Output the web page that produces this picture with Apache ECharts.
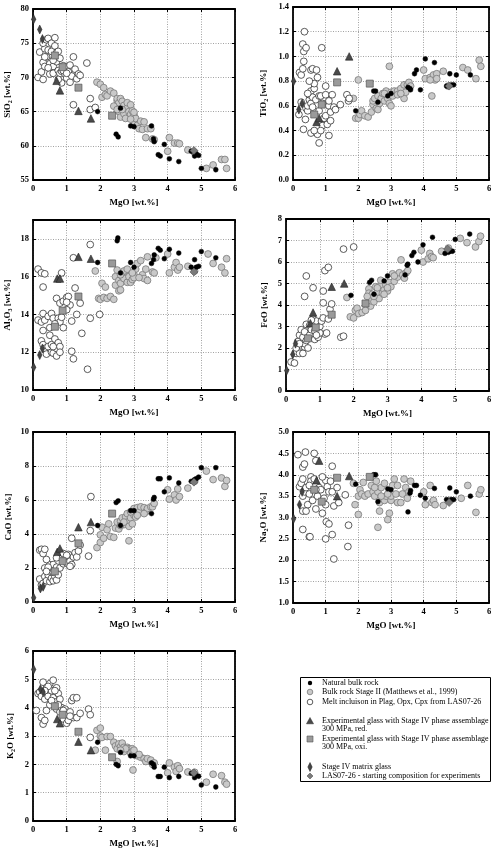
<!DOCTYPE html>
<html><head><meta charset="utf-8">
<script src="https://cdn.jsdelivr.net/npm/echarts@6/dist/echarts.min.js"></script>
<style>html,body{margin:0;padding:0;background:#fff}#c{width:500px;height:855px}</style>
</head><body><div id="c"></div>
<script>
// ---------- DATA ----------
const xMin = 0, xMax = 6, xInterval = 1;
const xLabel = 'MgO [wt.%]';

// Natural bulk rock
const natSiO2 = [[1.92,65.0],[2.47,61.7],[2.53,61.3],[2.6,65.5],[2.9,62.9],[3.0,62.8],[3.52,62.9],[3.58,61.0],[3.6,60.6],[3.72,58.7],[3.78,58.5],[3.9,60.2],[4.05,58.1],[4.33,57.7],[4.7,59.2],[4.8,58.5],[4.85,58.8],[4.92,58.6],[5.0,56.7],[5.43,56.5]];
const natTiO2 = [[1.92,0.56],[2.47,0.72],[2.53,0.72],[2.6,0.63],[2.9,0.68],[3.0,0.70],[3.52,0.75],[3.58,0.74],[3.6,0.73],[3.72,0.86],[3.78,0.89],[3.9,0.73],[4.05,0.98],[4.33,0.95],[4.7,0.76],[4.8,0.86],[4.85,0.77],[4.92,0.77],[5.0,0.85],[5.43,0.85]];
const natAl2O3 = [[1.92,16.75],[2.5,17.9],[2.52,18.05],[2.6,16.2],[2.9,16.75],[3.0,16.5],[3.52,16.7],[3.58,16.9],[3.6,17.15],[3.72,17.5],[3.78,17.4],[3.9,16.95],[4.05,17.45],[4.33,17.25],[4.7,16.5],[4.8,16.9],[4.85,16.5],[4.92,16.55],[5.0,17.33],[5.43,17.0]];
const natFeO = [[1.92,4.45],[2.47,5.05],[2.53,5.15],[2.6,4.5],[2.9,5.12],[3.0,5.35],[3.52,5.4],[3.58,5.85],[3.6,5.9],[3.72,6.3],[3.78,6.45],[3.9,6.0],[4.05,6.8],[4.33,7.15],[4.7,6.4],[4.8,6.45],[4.85,6.5],[4.92,6.5],[5.0,7.05],[5.43,7.3]];
const natCaO = [[1.92,4.5],[2.47,5.85],[2.53,5.95],[2.6,4.5],[2.9,5.37],[3.0,5.37],[3.52,5.2],[3.58,6.05],[3.6,6.15],[3.72,7.25],[3.78,7.25],[3.9,6.48],[4.05,7.3],[4.33,7.0],[4.7,7.1],[4.8,7.2],[4.85,7.25],[4.92,7.35],[5.0,7.9],[5.43,7.9]];
const natNa2O = [[1.92,3.78],[2.47,4.0],[2.53,4.0],[2.6,3.37],[2.9,3.67],[3.0,3.65],[3.52,3.13],[3.58,3.57],[3.6,3.63],[3.72,3.75],[3.78,3.75],[3.9,3.52],[4.05,3.45],[4.33,3.68],[4.7,3.42],[4.8,3.69],[4.85,3.42],[4.92,3.42],[5.0,3.6],[5.43,3.5]];
const natK2O = [[1.92,2.78],[2.47,2.0],[2.53,1.95],[2.6,2.42],[2.9,2.3],[3.0,2.3],[3.52,2.05],[3.58,2.0],[3.6,1.9],[3.72,1.57],[3.78,1.57],[3.9,1.9],[4.05,1.53],[4.33,1.57],[4.7,1.68],[4.8,1.53],[4.85,1.6],[4.92,1.58],[5.0,1.27],[5.43,1.2]];

// Bulk rock Stage II (Matthews et al., 1999)
const s2SiO2 = [[1.9,69.3],[2.0,69.0],[2.05,67.1],[2.1,68.5],[2.15,67.5],[2.2,67.3],[2.3,68.0],[2.4,67.7],[2.5,66.6],[2.5,66.9],[2.55,66.3],[2.6,66.9],[2.65,66.5],[2.55,65.0],[2.6,64.2],[2.7,65.9],[2.7,64.7],[2.75,64.0],[2.8,65.5],[2.8,66.3],[2.85,65.0],[2.9,66.0],[2.9,64.6],[2.95,65.1],[3.0,64.5],[3.0,63.5],[3.05,64.0],[3.1,63.0],[3.15,62.5],[3.2,63.6],[3.25,62.4],[3.3,63.5],[3.4,62.5],[3.35,61.2],[3.5,62.5],[3.55,61.0],[3.6,60.9],[4.0,59.2],[4.05,61.2],[4.2,60.4],[4.3,60.4],[4.35,60.3],[4.6,59.4],[4.8,59.0],[5.15,56.7],[5.35,57.2],[5.6,58.0],[5.7,58.0],[5.75,56.7],[2.4,65.8],[2.5,65.3],[2.65,65.3],[2.9,63.9],[3.0,64.9]];
const s2TiO2 = [[1.85,0.66],[1.92,0.5],[2.0,0.81],[2.0,0.5],[2.05,0.53],[2.1,0.56],[2.2,0.52],[2.3,0.51],[2.4,0.55],[2.45,0.61],[2.45,0.64],[2.5,0.66],[2.55,0.58],[2.6,0.57],[2.6,0.68],[2.65,0.62],[2.7,0.66],[2.75,0.70],[2.8,0.64],[2.85,0.72],[2.9,0.66],[2.95,0.62],[2.95,0.92],[3.0,0.60],[3.0,0.71],[3.05,0.68],[3.1,0.72],[3.2,0.72],[3.3,0.74],[3.4,0.66],[3.4,0.77],[3.5,0.77],[3.55,0.79],[3.45,0.71],[4.0,0.89],[4.05,0.82],[4.2,0.83],[4.25,0.68],[4.3,0.85],[4.35,0.81],[4.4,0.86],[4.6,0.88],[4.75,0.76],[5.2,0.91],[5.35,0.89],[5.6,0.82],[5.7,0.97],[5.75,0.92],[3.2,0.69],[3.3,0.7],[2.8,0.7],[3.6,0.76],[4.2,0.81],[4.4,0.82]];
const s2Al2O3 = [[1.85,16.3],[1.95,14.85],[2.0,14.8],[2.05,15.65],[2.1,14.9],[2.15,15.45],[2.2,14.85],[2.3,14.95],[2.4,14.8],[2.45,15.55],[2.45,16.0],[2.55,15.25],[2.6,15.3],[2.55,15.8],[2.6,15.65],[2.65,16.0],[2.7,15.9],[2.75,16.3],[2.8,15.7],[2.85,16.0],[2.9,15.7],[2.95,15.85],[3.0,16.1],[3.0,15.95],[3.05,16.4],[3.1,16.7],[3.2,16.85],[3.25,16.1],[3.3,15.9],[3.35,16.4],[3.4,15.8],[3.4,17.05],[3.55,16.25],[3.6,16.2],[3.65,17.0],[4.0,17.2],[4.05,16.2],[4.2,16.5],[4.25,16.75],[4.3,16.35],[4.35,16.5],[4.6,16.55],[4.8,16.3],[5.2,17.2],[5.35,16.7],[5.6,16.5],[5.7,16.2],[5.75,16.95],[2.7,16.3],[2.8,16.4],[2.95,16.2],[3.15,15.95],[2.6,16.1],[2.5,16.35]];
const s2FeO = [[1.8,4.35],[1.9,3.45],[2.0,3.4],[2.05,3.75],[2.1,3.85],[2.15,3.6],[2.25,3.65],[2.35,3.75],[2.45,4.75],[2.45,4.55],[2.5,3.95],[2.5,4.2],[2.55,4.5],[2.6,4.15],[2.65,4.85],[2.7,4.6],[2.75,4.3],[2.8,4.9],[2.8,5.15],[2.85,4.55],[2.9,4.7],[2.95,4.95],[3.0,4.65],[3.05,5.05],[3.1,4.85],[3.15,5.45],[3.2,5.1],[3.3,5.3],[3.35,5.5],[3.4,6.1],[3.45,5.4],[3.5,5.25],[3.55,5.5],[3.6,5.6],[4.0,6.55],[4.05,6.0],[4.2,6.15],[4.25,6.4],[4.3,6.25],[4.35,6.2],[4.6,6.5],[4.8,6.65],[5.15,7.1],[5.35,6.9],[5.6,6.7],[5.7,6.95],[5.75,7.2],[2.6,4.4],[2.9,4.5],[3.0,4.8],[3.2,5.35],[2.4,4.4],[2.7,4.8]];
const s2CaO = [[1.9,3.2],[2.0,3.5],[2.0,3.95],[2.05,4.4],[2.1,3.75],[2.2,4.25],[2.25,4.6],[2.3,3.85],[2.4,3.8],[2.45,4.35],[2.5,4.7],[2.55,4.3],[2.6,4.75],[2.65,4.95],[2.7,4.55],[2.75,5.0],[2.8,4.7],[2.8,5.2],[2.85,3.6],[2.85,4.45],[2.9,4.95],[2.95,4.6],[3.0,5.1],[3.0,5.5],[3.05,5.0],[3.1,5.55],[3.15,5.3],[3.2,5.6],[3.3,5.55],[3.35,5.3],[3.4,5.5],[3.5,5.6],[3.55,5.6],[3.6,5.8],[4.0,6.6],[4.05,6.05],[4.2,6.3],[4.25,6.0],[4.3,6.65],[4.35,6.2],[4.6,6.7],[4.8,7.1],[5.15,7.7],[5.35,7.2],[5.6,7.3],[5.7,6.8],[5.75,7.15],[2.6,4.5],[2.9,5.3],[3.1,5.1],[2.7,4.7],[3.3,5.2]];
const s2Na2O = [[1.85,3.8],[1.9,3.3],[2.0,3.07],[2.0,3.5],[2.05,3.65],[2.1,3.55],[2.15,3.82],[2.2,3.5],[2.3,3.55],[2.4,3.75],[2.45,3.6],[2.5,3.5],[2.55,3.85],[2.6,2.77],[2.6,3.6],[2.65,3.35],[2.65,3.15],[2.7,3.7],[2.75,3.45],[2.8,3.8],[2.8,3.4],[2.85,3.5],[2.9,2.95],[2.95,3.1],[3.0,3.4],[3.0,3.5],[3.05,3.75],[3.1,3.9],[3.15,3.55],[3.2,3.35],[3.3,3.35],[3.35,3.55],[3.4,3.9],[3.45,3.7],[3.5,3.45],[3.55,3.6],[3.6,3.85],[4.0,3.6],[4.05,3.3],[4.2,3.75],[4.25,3.35],[4.3,3.4],[4.35,3.3],[4.6,3.28],[4.8,3.4],[5.15,3.45],[5.35,3.75],[5.6,3.12],[5.7,3.55],[5.75,3.65],[2.5,3.7],[2.9,3.55],[3.2,3.75],[2.7,3.5]];
const s2K2O = [[1.85,2.5],[1.9,3.2],[2.0,3.28],[2.0,3.0],[2.05,2.95],[2.15,2.5],[2.2,2.98],[2.3,2.98],[2.4,2.78],[2.45,2.65],[2.5,2.55],[2.55,2.72],[2.6,2.62],[2.65,2.75],[2.7,2.45],[2.7,2.6],[2.8,2.6],[2.85,2.55],[2.9,2.4],[2.95,2.55],[2.95,2.45],[2.97,1.8],[3.0,2.4],[3.05,2.35],[3.1,2.3],[3.2,2.25],[3.3,2.2],[3.35,2.1],[3.4,2.2],[3.5,2.15],[3.55,2.0],[3.6,2.05],[4.0,1.7],[4.05,2.05],[4.2,1.9],[4.25,1.75],[4.3,1.95],[4.35,1.85],[4.6,1.73],[4.8,1.72],[5.15,1.37],[5.35,1.65],[5.6,1.6],[5.7,1.37],[5.75,1.3],[2.5,2.1],[2.75,2.55],[3.0,2.5],[3.15,2.35],[2.6,2.5]];

// Melt inclusion in Plag, Opx, Cpx from LAS07-26
const miSiO2 = [[0.15,70.0],[0.2,73.7],[0.25,70.8],[0.3,69.7],[0.3,72.2],[0.35,71.6],[0.35,74.2],[0.3,75.0],[0.4,73.0],[0.4,75.5],[0.45,74.0],[0.45,75.7],[0.5,72.0],[0.5,70.5],[0.55,73.8],[0.55,75.0],[0.6,71.6],[0.6,70.6],[0.65,74.6],[0.65,75.8],[0.7,73.6],[0.7,72.3],[0.75,71.0],[0.75,73.8],[0.8,70.6],[0.8,72.8],[0.85,69.2],[0.85,70.9],[0.9,71.7],[0.95,70.5],[1.0,71.5],[1.0,69.9],[1.05,70.8],[1.1,71.8],[1.1,69.3],[1.15,70.2],[1.2,73.0],[1.25,71.2],[1.3,69.8],[1.35,70.5],[1.4,70.3],[1.2,66.0],[1.6,72.1],[1.7,66.9],[1.7,65.3],[1.85,65.6],[0.9,71.0],[0.35,73.0],[0.6,72.5],[1.0,70.6],[0.45,71.4],[0.75,69.7]];
const miTiO2 = [[0.18,0.53],[0.2,0.87],[0.25,0.63],[0.25,0.85],[0.3,0.9],[0.3,1.1],[0.33,0.96],[0.33,1.04],[0.35,1.2],[0.4,1.07],[0.32,0.41],[0.38,0.49],[0.4,0.58],[0.45,0.56],[0.45,0.6],[0.5,0.65],[0.5,0.69],[0.55,0.62],[0.55,0.72],[0.55,0.89],[0.55,0.38],[0.6,0.9],[0.6,0.67],[0.6,0.59],[0.65,0.74],[0.65,0.78],[0.7,0.65],[0.72,0.89],[0.75,0.37],[0.75,0.83],[0.8,0.3],[0.8,0.68],[0.8,0.56],[0.85,0.68],[0.88,1.07],[0.9,0.44],[0.95,0.5],[1.0,0.76],[1.0,0.52],[1.0,0.69],[1.05,0.45],[1.1,0.36],[1.1,0.6],[1.15,0.48],[1.15,0.55],[1.2,0.69],[1.25,0.59],[1.3,0.57],[1.45,0.61],[1.65,0.69],[1.7,0.64],[1.72,0.66],[0.5,0.8],[0.45,0.7],[0.65,0.4],[0.85,0.4],[0.9,0.62],[1.1,0.64]];
const miAl2O3 = [[0.15,16.4],[0.25,16.2],[0.35,16.15],[0.3,15.45],[0.85,16.2],[1.2,17.0],[1.7,17.7],[0.15,13.7],[0.25,13.6],[0.3,13.15],[0.3,14.05],[0.35,13.7],[0.45,13.9],[0.55,14.05],[0.5,13.3],[0.6,13.8],[0.7,14.85],[0.75,13.8],[0.8,13.6],[0.8,14.6],[0.9,14.7],[0.9,13.3],[1.0,14.9],[1.05,14.95],[1.1,14.5],[1.15,13.65],[1.25,15.4],[1.3,14.0],[1.4,14.6],[1.45,13.0],[1.7,13.8],[1.98,14.0],[0.25,12.6],[0.3,12.4],[0.35,12.2],[0.4,11.9],[0.45,12.3],[0.5,12.9],[0.55,12.4],[0.55,12.0],[0.6,11.95],[0.65,12.7],[0.7,11.8],[0.7,12.2],[0.75,12.5],[0.8,12.3],[0.8,12.0],[0.6,12.3],[1.15,12.05],[1.2,11.65],[1.62,11.1],[0.85,13.85],[1.0,14.65],[0.65,13.5],[1.0,14.25]];
const miFeO = [[0.15,1.35],[0.25,1.3],[0.3,1.75],[0.4,1.75],[0.45,2.1],[0.5,1.75],[0.55,2.05],[0.35,2.3],[0.4,2.6],[0.45,2.85],[0.5,2.5],[0.55,2.2],[0.55,2.75],[0.6,3.1],[0.65,2.0],[0.7,2.6],[0.7,3.05],[0.75,2.85],[0.8,3.35],[0.85,2.4],[0.85,2.8],[0.9,3.25],[0.95,2.5],[1.0,3.0],[1.05,3.25],[1.1,3.4],[1.15,2.65],[1.2,2.7],[1.25,3.35],[1.3,3.8],[1.35,4.05],[1.1,4.1],[1.1,4.65],[1.15,5.6],[1.25,5.75],[0.55,4.4],[0.6,5.35],[0.8,4.8],[1.62,2.5],[1.7,2.55],[1.7,6.6],[2.0,6.7],[0.3,2.0],[0.6,2.35],[0.75,3.3],[1.0,2.7],[0.4,2.2],[0.9,2.6]];
const miCaO = [[0.2,1.35],[0.25,1.0],[0.3,1.1],[0.35,1.5],[0.35,2.0],[0.4,1.25],[0.45,1.6],[0.5,1.2],[0.5,2.2],[0.55,1.4],[0.55,1.75],[0.6,1.25],[0.6,2.2],[0.65,1.5],[0.7,1.3],[0.7,2.05],[0.75,1.6],[0.8,2.0],[0.85,2.6],[0.9,2.25],[0.95,2.7],[1.0,2.3],[1.05,2.8],[1.1,2.4],[1.15,2.2],[1.15,3.75],[1.2,2.65],[1.25,2.9],[1.3,2.65],[1.35,3.0],[1.4,3.35],[1.65,2.7],[1.7,4.2],[1.72,6.2],[0.2,3.05],[0.25,3.1],[0.3,2.85],[0.35,3.1],[0.4,2.5],[0.45,2.05],[0.9,2.85],[1.0,2.75],[0.6,1.75],[0.4,1.8],[0.7,2.6],[1.1,2.1]];
const miNa2O = [[0.15,4.47],[0.3,4.18],[0.35,4.25],[0.38,4.53],[0.65,4.5],[0.7,4.33],[1.2,4.2],[0.2,3.72],[0.25,3.8],[0.3,3.9],[0.3,3.5],[0.35,3.6],[0.4,3.7],[0.45,3.3],[0.5,3.55],[0.55,3.95],[0.55,3.85],[0.6,3.4],[0.65,3.9],[0.7,3.2],[0.75,3.5],[0.8,3.7],[0.85,3.65],[0.9,3.1],[0.95,3.45],[1.0,3.87],[1.0,3.3],[1.05,3.72],[1.1,3.6],[1.15,3.85],[1.2,3.6],[1.25,3.27],[1.35,3.7],[1.4,3.35],[1.6,3.53],[0.3,3.15],[0.4,3.15],[0.3,2.72],[0.5,2.55],[0.52,2.55],[1.0,2.5],[1.02,2.9],[1.1,2.85],[1.2,2.6],[1.25,2.03],[1.7,2.82],[1.68,2.32],[0.9,3.95],[0.7,3.65],[0.5,3.75]];
const miK2O = [[0.1,3.9],[0.15,4.5],[0.2,4.55],[0.25,4.4],[0.25,3.65],[0.3,3.42],[0.3,4.9],[0.35,3.55],[0.35,4.3],[0.4,4.7],[0.4,3.9],[0.45,4.4],[0.5,4.85],[0.5,4.1],[0.55,4.6],[0.6,4.97],[0.6,4.35],[0.65,4.2],[0.7,4.7],[0.7,3.95],[0.75,4.5],[0.8,4.3],[0.8,3.85],[0.85,4.0],[0.9,3.6],[0.95,3.95],[1.0,3.45],[1.0,3.75],[1.05,3.55],[1.1,3.85],[1.15,4.25],[1.2,4.35],[1.2,3.65],[1.3,4.35],[1.3,3.65],[1.4,3.8],[1.65,3.95],[1.7,3.75],[1.7,2.95],[0.55,4.25],[0.45,4.75],[0.65,4.6],[0.9,3.9],[1.1,3.7],[0.35,4.6],[0.75,4.1]];

// Experimental glass, Stage IV phase assemblage, 300 MPa, red.
const redSiO2 = [[0.7,69.5],[0.8,68.1],[1.35,65.1],[1.72,64.0]];
const redTiO2 = [[0.72,0.47],[0.8,0.5],[1.35,0.88],[1.72,1.0]];
const redAl2O3 = [[0.72,15.9],[0.8,15.9],[1.35,17.05],[1.72,16.95]];
const redFeO = [[0.72,3.15],[0.8,3.65],[1.35,4.85],[1.72,5.0]];
const redCaO = [[0.72,2.95],[0.8,3.15],[1.35,4.4],[1.72,4.7]];
const redNa2O = [[0.72,3.87],[0.8,4.33],[1.35,3.5],[1.72,3.97]];
const redK2O = [[0.72,3.6],[0.8,3.45],[1.35,2.8],[1.72,2.5]];

// Experimental glass, Stage IV phase assemblage, 300 MPa, oxi.
const oxiSiO2 = [[0.65,73.2],[0.88,71.5],[1.35,68.5],[2.35,64.4]];
const oxiTiO2 = [[0.65,0.53],[0.88,0.61],[1.35,0.79],[2.35,0.78]];
const oxiAl2O3 = [[0.65,13.35],[0.88,14.2],[1.35,14.95],[2.35,16.7]];
const oxiFeO = [[0.65,2.45],[0.88,2.95],[1.35,3.55],[2.35,4.07]];
const oxiCaO = [[0.65,1.8],[0.88,2.4],[1.35,3.45],[2.35,5.2]];
const oxiNa2O = [[0.65,3.65],[0.88,3.37],[1.35,3.93],[2.35,3.95]];
const oxiK2O = [[0.65,4.05],[0.88,3.75],[1.35,3.15],[2.35,2.25]];

// Stage IV matrix glass
const ivSiO2 = [[0.02,78.5],[0.2,77.0],[0.28,75.6]];
const ivTiO2 = [[0.02,0.8],[0.18,0.57],[0.28,0.62]];
const ivAl2O3 = [[0.02,11.2],[0.2,11.85],[0.28,12.2]];
const ivFeO = [[0.02,0.95],[0.2,1.7],[0.28,2.2]];
const ivCaO = [[0.02,0.25],[0.22,0.8],[0.3,0.9]];
const ivNa2O = [[0.02,2.97],[0.2,3.3],[0.28,3.6]];
const ivK2O = [[0.02,5.35],[0.22,4.65],[0.3,4.55]];

// LAS07-26 - starting composition for experiments
const lasSiO2 = [[4.78,59.3]];
const lasTiO2 = [[4.78,0.76]];
const lasAl2O3 = [[4.78,16.25]];
const lasFeO = [[4.78,6.6]];
const lasCaO = [[4.78,7.05]];
const lasNa2O = [[4.78,3.35]];
const lasK2O = [[4.78,1.7]];

const legendLabels = [
  'Natural bulk rock',
  'Bulk rock Stage II (Matthews et al., 1999)',
  'Melt incluison in Plag, Opx, Cpx from LAS07-26',
  'Experimental glass with Stage IV phase assemblage',
  '300 MPa, red.',
  'Experimental glass with Stage IV phase assemblage',
  '300 MPa, oxi.',
  'Stage IV matrix glass',
  'LAS07-26 - starting composition for experiments'
];

// ---------- LAYOUT ----------
const FONT = 'Liberation Serif';
const panels = [
  {name:'{a|SiO}{s|2}{a| [wt.%]}', min:55, max:80, interval:5, dec:0, grid:{left:33, top:9, width:202, height:171}, gap:20,
   d:[s2SiO2, miSiO2, natSiO2, redSiO2, oxiSiO2, ivSiO2, lasSiO2]},
  {name:'{a|TiO}{s|2}{a| [wt.%]}', min:0, max:1.4, interval:0.2, dec:1, grid:{left:293, top:7, width:196, height:173}, gap:24,
   d:[s2TiO2, miTiO2, natTiO2, redTiO2, oxiTiO2, ivTiO2, lasTiO2]},
  {name:'{a|Al}{s|2}{a|O}{s|3}{a| [wt.%]}', min:10, max:19, interval:2, dec:0, grid:{left:33, top:220, width:202, height:170}, gap:20,
   d:[s2Al2O3, miAl2O3, natAl2O3, redAl2O3, oxiAl2O3, ivAl2O3, lasAl2O3]},
  {name:'{a|FeO [wt.%]}', min:0, max:8, interval:1, dec:0, grid:{left:286, top:219, width:203, height:172}, gap:17,
   d:[s2FeO, miFeO, natFeO, redFeO, oxiFeO, ivFeO, lasFeO]},
  {name:'{a|CaO [wt.%]}', min:0, max:10, interval:2, dec:0, grid:{left:33, top:432, width:202, height:170}, gap:20,
   d:[s2CaO, miCaO, natCaO, redCaO, oxiCaO, ivCaO, lasCaO]},
  {name:'{a|Na}{s|2}{a|O [wt.%]}', min:1, max:5, interval:0.5, dec:1, grid:{left:293, top:432, width:196, height:171}, gap:24,
   d:[s2Na2O, miNa2O, natNa2O, redNa2O, oxiNa2O, ivNa2O, lasNa2O]},
  {name:'{a|K}{s|2}{a|O [wt.%]}', min:0, max:6, interval:1, dec:0, grid:{left:33, top:651, width:202, height:170}, gap:17,
   d:[s2K2O, miK2O, natK2O, redK2O, oxiK2O, ivK2O, lasK2O]}
];

const styles = [
  {symbol:'circle', size:6.8, color:'#c9c9c9', border:'#7a7a7a', bw:0.8},
  {symbol:'circle', size:6.8, color:'#ffffff', border:'#333333', bw:0.8},
  {symbol:'circle', size:4.8, color:'#000000', border:'#000000', bw:0.5},
  {symbol:'triangle', size:7.5, color:'#4a4a4a', border:'#222222', bw:0.6},
  {symbol:'rect', size:7, color:'#9a9a9a', border:'#555555', bw:0.7},
  {symbol:'diamond', size:[4.5,9], color:'#444444', border:'#222222', bw:0.5},
  {symbol:'diamond', size:[8,8], color:'#7a7a7a', border:'#444444', bw:0.5}
];

const grids = [], xAxes = [], yAxes = [], series = [];
const tickStyle = {show:true, inside:true, length:3, lineStyle:{color:'#000', width:1}};
const lineStyle = {show:true, onZero:false, lineStyle:{color:'#000', width:1.8}};
const labelStyle = {fontFamily:FONT, fontWeight:'bold', fontSize:8.5, color:'#000'};
const splitStyle = {show:true, lineStyle:{color:'#8a8a8a', type:[1,1.5], width:0.8}};
panels.forEach((p, i) => {
  grids.push(Object.assign({containLabel:false}, p.grid));
  xAxes.push({gridIndex:i, type:'value', min:xMin, max:xMax, interval:xInterval, position:'bottom',
    axisLine:lineStyle, axisTick:tickStyle,
    axisLabel:Object.assign({margin:4}, labelStyle),
    splitLine:splitStyle,
    name:xLabel, nameLocation:'middle', nameGap:18,
    nameTextStyle:{fontFamily:FONT, fontWeight:'bold', fontSize:9, color:'#000'}});
  xAxes.push({gridIndex:i, type:'value', min:xMin, max:xMax, interval:xInterval, position:'top',
    axisLine:lineStyle, axisTick:tickStyle, axisLabel:{show:false}, splitLine:{show:false}});
  yAxes.push({gridIndex:i, type:'value', min:p.min, max:p.max, interval:p.interval, position:'left',
    axisLine:lineStyle, axisTick:tickStyle,
    axisLabel:Object.assign({margin:4, showMaxLabel: Math.abs(((p.max - p.min) / p.interval) - Math.round((p.max - p.min) / p.interval)) < 1e-9,
      formatter:v => v.toFixed(p.dec)}, labelStyle),
    splitLine:splitStyle,
    name:p.name, nameLocation:'middle', nameGap:p.gap, nameRotate:90,
    nameTextStyle:{rich:{
      a:{fontFamily:FONT, fontWeight:'bold', fontSize:9, color:'#000'},
      s:{fontFamily:FONT, fontWeight:'bold', fontSize:6, color:'#000', padding:[5,0,0,0]}}}});
  yAxes.push({gridIndex:i, type:'value', min:p.min, max:p.max, interval:p.interval, position:'right',
    axisLine:lineStyle, axisTick:tickStyle, axisLabel:{show:false}, splitLine:{show:false}});
  p.d.forEach((data, k) => {
    const s = styles[k];
    series.push({type:'scatter', xAxisIndex:2*i, yAxisIndex:2*i, data:data, symbol:s.symbol, symbolSize:s.size,
      itemStyle:{color:s.color, borderColor:s.border, borderWidth:s.bw, opacity:1}, silent:true, z:2+k, animation:false});
  });
});

// legend (custom box)
const LX = 310, TX = 322;
const rowY = [683, 692, 702, 721, 729, 739, 747, 767, 776];
const graphic = [
  {type:'rect', shape:{x:300.5, y:677.5, width:190, height:104}, style:{fill:'#fff', stroke:'#000', lineWidth:1}, z:100}
];
legendLabels.forEach((t, i) => {
  graphic.push({type:'text', x:TX, y:rowY[i], style:{text:t, fontFamily:FONT, fontSize:8, fill:'#000', textVerticalAlign:'middle'}, z:101});
});
graphic.push({type:'circle', shape:{cx:LX, cy:rowY[0], r:2.2}, style:{fill:'#000'}, z:101});
graphic.push({type:'circle', shape:{cx:LX, cy:rowY[1], r:2.8}, style:{fill:'#c9c9c9', stroke:'#7a7a7a', lineWidth:0.8}, z:101});
graphic.push({type:'circle', shape:{cx:LX, cy:rowY[2], r:2.8}, style:{fill:'#fff', stroke:'#333', lineWidth:0.8}, z:101});
graphic.push({type:'polygon', shape:{points:[[LX,rowY[3]-3.5],[LX+3.5,rowY[3]+2.8],[LX-3.5,rowY[3]+2.8]]}, style:{fill:'#4a4a4a', stroke:'#222', lineWidth:0.5}, z:101});
graphic.push({type:'rect', shape:{x:LX-3, y:rowY[5]-3, width:6, height:6}, style:{fill:'#9a9a9a', stroke:'#555', lineWidth:0.6}, z:101});
graphic.push({type:'polygon', shape:{points:[[LX,rowY[7]-4.5],[LX+2.2,rowY[7]],[LX,rowY[7]+4.5],[LX-2.2,rowY[7]]]}, style:{fill:'#444', stroke:'#222', lineWidth:0.5}, z:101});
graphic.push({type:'polygon', shape:{points:[[LX,rowY[8]-3],[LX+3,rowY[8]],[LX,rowY[8]+3],[LX-3,rowY[8]]]}, style:{fill:'#7a7a7a', stroke:'#444', lineWidth:0.5}, z:101});

const chart = echarts.init(document.getElementById('c'), null, {renderer:'canvas'});
chart.setOption({animation:false, backgroundColor:'#fff', grid:grids, xAxis:xAxes, yAxis:yAxes, series:series, graphic:graphic});
</script></body></html>
